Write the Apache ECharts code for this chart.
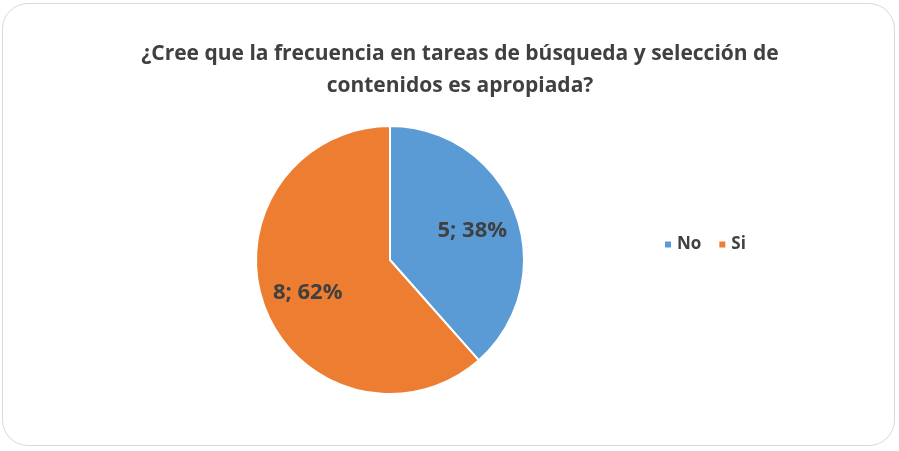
<!DOCTYPE html>
<html>
<head>
<meta charset="utf-8">
<script src="https://cdn.jsdelivr.net/npm/echarts@6/dist/echarts.min.js"></script>
<style>
  html, body { margin: 0; padding: 0; background: #fff; }
  #frame {
    position: absolute; left: 2px; top: 3px; width: 893px; height: 443px;
    border: 1.5px solid #d9d9d9; border-radius: 26px; box-sizing: border-box;
  }
  #chart { position: absolute; left: 0; top: 0; width: 899px; height: 451px; }
</style>
</head>
<body>
<div id="frame"></div>
<div id="chart"></div>
<script>
const categories = ["No", "Si"];
const counts = [5, 8];
const colors = ["#5B9BD5", "#ED7D31"];

const total = counts.reduce((a, b) => a + b, 0);
const pieData = categories.map((name, i) => ({
  name: name,
  value: counts[i],
  itemStyle: { color: colors[i] },
}));

const myChart = echarts.init(document.getElementById("chart"));
const font = "Open Sans, Liberation Sans, sans-serif";

myChart.setOption({
  animation: false,
  title: {
    text: "¿Cree que la frecuencia en tareas de búsqueda y selección de\ncontenidos es apropiada?",
    left: 455,
    textAlign: "center",
    top: 33,
    textStyle: {
      fontFamily: font,
      fontSize: 21,
      fontWeight: "bold",
      color: "#404040",
      lineHeight: 32,
    },
  },
  legend: {
    data: categories,
    left: 658,
    top: 231,
    icon: "rect",
    itemWidth: 8,
    itemHeight: 8,
    itemGap: 16,
    textStyle: {
      fontFamily: font,
      fontSize: 17,
      fontWeight: "bold",
      color: "#404040",
    },
  },
  series: [
    {
      // 饼图本体
      type: "pie",
      center: [390, 260],
      radius: [0, 134],
      startAngle: 90,
      clockwise: true,
      label: { show: false },
      labelLine: { show: false },
      itemStyle: { borderColor: "#fff", borderWidth: 2 },
      data: pieData,
    },
    {
      // 标签层，只显示文字
      type: "pie",
      silent: true,
      center: [390, 262],
      radius: [36, 134],
      startAngle: 90,
      clockwise: true,
      itemStyle: { color: "rgba(0,0,0,0)" },
      label: {
        show: true,
        position: "inside",
        formatter: (p) => p.value + "; " + Math.round((p.value / total) * 100) + "%",
        fontFamily: font,
        fontSize: 22,
        fontWeight: "bold",
        color: "#404040",
      },
      labelLine: { show: false },
      data: categories.map((name, i) => ({ name: name, value: counts[i] })),
    },
  ],
});
</script>
</body>
</html>
